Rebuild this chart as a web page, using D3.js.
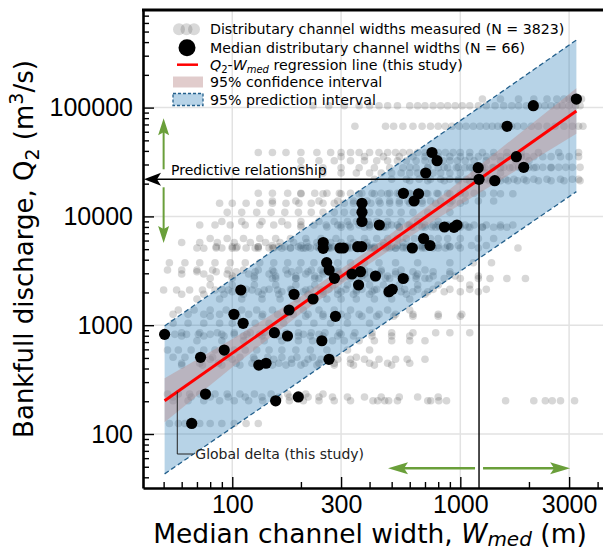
<!DOCTYPE html>
<html>
<head>
<meta charset="utf-8">
<script src="https://cdn.jsdelivr.net/npm/d3@7"></script>
<style>
  body { margin: 0; background: #fff; }
  text { font-family: "DejaVu Sans", sans-serif; fill: #000; }
</style>
</head>
<body>
<script>
// median distributary channel width (m) and bankfull discharge (m3/s), one per delta
var medianW = [50.5, 66.4, 72.6, 76.3, 92.2, 101.7, 109, 111.6, 130.7, 140.6, 153, 155, 174.6, 177.4, 186.6,
    194.8, 226, 247, 265.5, 283.5, 259.4, 266, 280.5, 335, 358, 365, 424.7, 486.5, 503, 562, 751.5, 791, 705,
    1198, 1208, 1416, 563, 656, 627, 370.5, 370.5, 370.5, 441.6, 852, 938, 967, 690, 736, 616, 250.5, 250.5,
    296.5, 307, 354.8, 369.5, 3228, 2090, 1603, 1761, 1897];
var medianQ = [824, 125, 507, 233, 591, 1259, 2106, 1041, 430, 447, 853, 202, 796, 1380, 1923,
    219, 1742, 720, 486, 1208, 3754, 3214, 2697, 2955, 2342, 3102, 2832, 2033, 2137, 2686, 38650, 32500, 25070,
    28030, 21930, 21280, 16300, 16150, 13850, 13200, 10900, 8980, 8340, 7990, 7940, 8340, 6265, 5402, 5124, 5755, 5091,
    5124, 5124, 5266, 5266, 119900, 104100, 67300, 35400, 28250];

// measured channel widths (m), one row per delta discharge
var rowQ = [119900, 104100, 67300, 38650, 35400, 32500, 28250, 28030, 25070, 21930, 21280, 16300, 16150, 13850,
    13200, 10900, 8980, 8340, 7990, 7940, 8340, 6265, 5755, 5402, 5266, 5266, 5124, 5124, 5124, 5091, 3754, 3214,
    3102, 2955, 2832, 2697, 2686, 2342, 2137, 2106, 2033, 1923, 1742, 1380, 1259, 1208, 1041, 853, 824, 796, 720,
    591, 507, 486, 447, 430, 233, 219, 202, 125];
var rowW = [
    [1250, 1500, 1800, 2100, 2400, 2650, 2850, 3000, 3100, 3228, 3300, 3400],
    [226, 265, 310, 360, 400, 440, 480, 530, 600, 650, 700, 760, 820, 880, 950, 1020, 1100, 1200, 1300, 1420, 1550, 1680, 1800, 1950, 2090, 2200, 2350, 2500, 2650, 2800, 3000, 3200, 3350],
    [345, 470, 510, 560, 620, 680, 740, 800, 860, 920, 990, 1060, 1140, 1220, 1300, 1380, 1460, 1540, 1603, 1680, 1780, 1900, 2050, 2200, 2400, 2600, 2850, 3100, 3300, 3450],
    [130, 150, 172, 200, 235, 270, 300, 330, 360, 400, 440, 480, 520, 560, 600, 650, 700, 751, 800, 860, 930, 1000, 1100, 1250, 1400, 1600, 1850, 2200, 2700, 3300],
    [300, 380, 460, 540, 620, 700, 800, 900, 1000, 1100, 1200, 1300, 1400, 1500, 1600, 1700, 1761, 1850, 1950, 2100, 2300, 2500, 2750, 3000, 3300],
    [200, 240, 280, 330, 380, 430, 480, 530, 580, 640, 700, 750, 791, 840, 900, 970, 1050, 1150, 1300, 1500, 1750, 2000],
    [600, 720, 850, 980, 1100, 1250, 1400, 1550, 1700, 1800, 1897, 2000, 2150, 2300, 2500, 2700, 2900, 3100, 3350],
    [200, 250, 300, 360, 420, 490, 560, 640, 720, 800, 880, 960, 1050, 1130, 1198, 1280, 1380, 1500, 1650, 1850, 2100, 2500],
    [250, 300, 350, 400, 450, 500, 550, 600, 650, 705, 760, 820, 900, 1000, 1150, 1300, 1500],
    [420, 500, 580, 660, 740, 820, 900, 980, 1060, 1140, 1208, 1280, 1360, 1460, 1580, 1720, 1900, 2100, 2400, 2750, 3100, 3300],
    [600, 720, 850, 980, 1100, 1220, 1340, 1416, 1500, 1620, 1780, 1950, 2200, 2500, 2850, 3350],
    [130, 150, 175, 200, 230, 260, 295, 330, 370, 410, 450, 490, 530, 563, 600, 650, 710, 790, 880, 1000, 1150, 1400],
    [200, 250, 300, 360, 420, 480, 540, 600, 656, 720, 800, 900, 1050, 1250, 1500, 1700],
    [150, 190, 240, 290, 340, 390, 440, 490, 540, 590, 627, 680, 740, 820, 920, 1050, 1200, 1400],
    [88, 100, 115, 132, 150, 172, 196, 222, 250, 280, 310, 340, 370, 405, 445, 490, 540, 600, 680, 780, 900, 1000],
    [95, 110, 128, 148, 170, 195, 222, 250, 280, 310, 340, 370, 400, 440, 490, 550, 620, 720, 900],
    [90, 110, 135, 165, 200, 240, 280, 320, 350, 370, 395, 430, 480, 550, 650, 800],
    [72, 84, 98, 114, 132, 152, 175, 200, 228, 258, 290, 325, 360, 400, 441, 480, 530, 590, 660, 760, 880, 1000],
    [200, 260, 330, 400, 470, 540, 610, 680, 750, 810, 852, 900, 980, 1080, 1250, 1500],
    [300, 380, 460, 540, 620, 700, 780, 860, 938, 1000, 1100, 1250, 1400, 1600],
    [300, 400, 500, 600, 700, 800, 880, 967, 1050, 1150, 1300, 1500, 1700],
    [80, 95, 112, 132, 155, 180, 210, 245, 285, 330, 380, 430, 480, 530, 580, 630, 690, 740, 800, 880, 1000, 1200, 1400],
    [60, 72, 86, 102, 120, 140, 162, 186, 212, 235, 250, 270, 300, 340, 390, 460, 560, 700],
    [150, 200, 260, 320, 390, 460, 530, 600, 670, 736, 800, 880, 980, 1120, 1300],
    [85, 105, 130, 160, 195, 235, 280, 320, 355, 390, 440, 500, 600, 750, 900],
    [100, 130, 170, 215, 265, 315, 369, 420, 480, 560, 680, 900],
    [70, 85, 104, 126, 152, 180, 210, 240, 270, 296, 320, 360, 420, 520, 700],
    [90, 115, 145, 180, 220, 265, 307, 350, 400, 470, 580, 800],
    [150, 200, 260, 330, 410, 490, 560, 616, 680, 760, 860, 1000, 1200, 1790],
    [75, 100, 130, 165, 205, 250, 295, 350, 420, 520],
    [53, 62, 72, 84, 98, 114, 132, 152, 175, 200, 228, 259, 290, 330, 380, 440, 520, 650, 900, 1140, 1370],
    [52, 60, 70, 82, 96, 112, 130, 150, 172, 196, 222, 245, 266, 290, 330, 380, 450, 550, 700],
    [70, 85, 104, 126, 152, 182, 215, 250, 290, 330, 365, 400, 450, 520, 620, 760, 900],
    [60, 75, 95, 118, 145, 175, 210, 250, 295, 335, 380, 440, 520, 650, 900],
    [100, 125, 155, 190, 230, 275, 320, 370, 425, 480, 550, 640, 760, 950, 1200],
    [80, 100, 125, 155, 190, 230, 280, 330, 390, 470, 580, 700],
    [150, 190, 240, 300, 360, 420, 490, 562, 640, 730, 850, 1000, 1200, 1350, 1600, 1930],
    [80, 100, 125, 155, 190, 230, 275, 320, 358, 400, 460, 540, 650, 800, 1100],
    [90, 115, 145, 180, 220, 265, 315, 370, 430, 503, 570, 650, 760, 900, 1100, 1300],
    [50, 57, 65, 74, 84, 96, 109, 122, 138, 158, 182, 210, 245, 290, 350, 420, 500],
    [100, 130, 165, 205, 250, 300, 350, 410, 486, 550, 620, 720, 850, 1000, 1200],
    [60, 75, 92, 112, 135, 160, 187, 215, 250, 290, 340, 400, 480, 580, 700],
    [70, 88, 110, 135, 162, 192, 226, 260, 300, 350, 420, 500, 600],
    [58, 68, 80, 94, 110, 128, 150, 177, 205, 240, 280, 330, 400, 480, 600],
    [55, 64, 75, 88, 102, 118, 136, 158, 185, 215, 250, 300, 360, 440, 520, 620, 800, 1015],
    [80, 105, 135, 170, 210, 250, 283, 320, 370, 430, 510, 620, 800, 1000],
    [55, 64, 75, 88, 100, 112, 126, 145, 168, 195, 228, 270, 320, 400],
    [60, 72, 86, 102, 120, 138, 153, 172, 195, 222, 255, 295, 345, 410, 500, 620, 780, 900, 1100],
    [50.5, 56, 63, 71, 80, 90, 102, 116, 132, 152, 176, 205, 240, 300],
    [60, 75, 92, 112, 135, 160, 175, 195, 220, 250, 290, 340, 410, 500, 600],
    [70, 90, 112, 138, 165, 195, 225, 247, 275, 310, 360, 420, 500, 600, 700],
    [52, 58, 66, 75, 84, 92, 102, 114, 128, 145, 165, 190, 220, 260, 320, 400],
    [55, 62, 72.6, 82, 94, 108, 124, 143, 165, 192, 225, 270, 350],
    [80, 100, 125, 152, 182, 215, 245, 265, 290, 330, 380, 440, 520, 585, 700],
    [60, 72, 87, 104, 122, 141, 160, 182, 208, 240, 280, 330, 400, 480, 600],
    [60, 74, 90, 108, 131, 150, 172, 200, 235, 280, 340, 420, 500],
    [52, 58, 65, 72, 76, 84, 95, 108, 125, 148, 175, 210, 250],
    [55, 66, 80, 96, 114, 135, 160, 178, 195, 215, 240, 275, 320, 380, 450, 540, 650, 800],
    [55, 64, 75, 88, 102, 118, 136, 155, 178, 205, 240, 280, 330, 414, 434, 466, 485, 530, 720, 742, 805, 870, 1580, 2100, 2360, 2530, 2750, 3170],
    [53, 58, 62, 66, 72, 80, 90, 102, 115, 130]
];

// regression line and intervals
var lineW = [50.5, 3228];
var lineQ = [202, 93100];
var ciW = [50.5, 100, 200, 400, 800, 1600, 3228];
var ciLow = [128, 410, 1280, 3680, 9660, 23400, 57400];
var ciHigh = [325, 747, 1850, 4970, 14600, 46700, 151000];
var piW = [50.5, 3228];
var piLow = [43, 16900];
var piHigh = [985, 418000];

// axis ticks
var xTicks = [100, 300, 1000, 3000];
var xMinor = [50, 60, 70, 80, 90, 200, 400, 500, 600, 700, 800, 900, 2000, 4000];
var yTicks = [100, 1000, 10000, 100000];
var yMinor = [40, 50, 60, 70, 80, 90, 200, 300, 400, 500, 600, 700, 800, 900,
    2000, 3000, 4000, 5000, 6000, 7000, 8000, 9000, 20000, 30000, 40000, 50000, 60000, 70000, 80000, 90000,
    200000, 300000, 400000, 500000, 600000, 700000];

// annotation anchors
var predW = 1208, predQ = 21930;
var greenVQ = [80000, 5700];
var greenHW = [482, 3030];
var greenHQ = 48.4;
var deltaW = 57.4, deltaLabelQ = 65.5;

var margin = {top: 10, left: 143};
var width = 462;
var height = 478;
var green = "#6a9f3a";

var svg = d3.select("body")
    .append("svg")
    .attr("width", 603)
    .attr("height", 552)
    .append("g")
    .attr("transform", "translate(" + margin.left + "," + margin.top + ")");

var x = d3.scaleLog().domain([40.6, 4310]).range([0, width]);
var y = d3.scaleLog().domain([31.9, 789000]).range([height, 0]);

// grid lines
svg.selectAll(".vgrid").data(xTicks).enter().append("line")
    .attr("x1", function (d) { return x(d); }).attr("x2", function (d) { return x(d); })
    .attr("y1", 0).attr("y2", height)
    .style("stroke", "#e2e2e2").style("stroke-width", 1.5);
svg.selectAll(".hgrid").data(yTicks).enter().append("line")
    .attr("y1", function (d) { return y(d); }).attr("y2", function (d) { return y(d); })
    .attr("x1", 0).attr("x2", width)
    .style("stroke", "#e2e2e2").style("stroke-width", 1.5);

// measured widths
var measured = [];
rowW.forEach(function (ws, i) {
    ws.forEach(function (w) { measured.push({w: w, q: rowQ[i]}); });
});
svg.append("g").selectAll("circle")
    .data(measured)
    .enter()
    .append("circle")
    .attr("cx", function (d) { return x(d.w); })
    .attr("cy", function (d) { return y(d.q); })
    .attr("r", 3.8)
    .style("fill", "#404040")
    .style("opacity", 0.21);

// 95% prediction interval
var piArea = d3.area()
    .x(function (d, i) { return x(piW[i]); })
    .y0(function (d, i) { return y(piLow[i]); })
    .y1(function (d, i) { return y(piHigh[i]); });
svg.append("path").datum(piW).attr("d", piArea)
    .style("fill", "#1f77b4").style("opacity", 0.32);
[piLow, piHigh].forEach(function (arr) {
    svg.append("path").datum(piW)
        .attr("d", d3.line().x(function (d) { return x(d); }).y(function (d, i) { return y(arr[i]); }))
        .style("fill", "none").style("stroke", "#24608c")
        .style("stroke-width", 1.3).style("stroke-dasharray", "5,3");
});

// 95% confidence interval
var ciArea = d3.area()
    .x(function (d) { return x(d); })
    .y0(function (d, i) { return y(ciLow[i]); })
    .y1(function (d, i) { return y(ciHigh[i]); });
svg.append("path").datum(ciW).attr("d", ciArea)
    .style("fill", "#bc8f8f").style("opacity", 0.45);

// regression line
svg.append("path").datum(lineW)
    .attr("d", d3.line().x(function (d) { return x(d); }).y(function (d, i) { return y(lineQ[i]); }))
    .style("fill", "none").style("stroke", "#ff0000").style("stroke-width", 3);

// medians
svg.append("g").selectAll("circle")
    .data(medianW)
    .enter()
    .append("circle")
    .attr("cx", function (d) { return x(d); })
    .attr("cy", function (d, i) { return y(medianQ[i]); })
    .attr("r", 5.6)
    .style("fill", "#000");

function arrowHead(tx, ty, angle, len, half, notch, color) {
    svg.append("path")
        .attr("d", "M0,0L" + (-len) + "," + (-half) + "L" + (-len + notch) + ",0L" + (-len) + "," + half + "Z")
        .attr("transform", "translate(" + tx + "," + ty + ") rotate(" + angle + ")")
        .style("fill", color);
}

// predictive relationship
var px = x(predW), py = y(predQ);
svg.append("line").attr("x1", px).attr("x2", px).attr("y1", py).attr("y2", height)
    .style("stroke", "#000").style("stroke-width", 1.4);
svg.append("line").attr("x1", px).attr("x2", 8).attr("y1", py).attr("y2", py)
    .style("stroke", "#000").style("stroke-width", 1.4);
arrowHead(1, py, 180, 17, 6.5, 4, "#000");
svg.append("text").attr("x", 28).attr("y", py - 4)
    .style("font-size", "14px").text("Predictive relationship");

// green arrows
var gx = x(50);
svg.append("line").attr("x1", gx).attr("x2", gx).attr("y1", y(greenVQ[0]) + 10).attr("y2", py - 10)
    .style("stroke", green).style("stroke-width", 2);
svg.append("line").attr("x1", gx).attr("x2", gx).attr("y1", py + 8).attr("y2", y(greenVQ[1]) - 10)
    .style("stroke", green).style("stroke-width", 2);
arrowHead(gx, y(greenVQ[0]), -90, 17, 5.5, 3, green);
arrowHead(gx, y(greenVQ[1]), 90, 17, 5.5, 3, green);
var gy = y(greenHQ);
svg.append("line").attr("x1", x(greenHW[0]) + 10).attr("x2", px - 4).attr("y1", gy).attr("y2", gy)
    .style("stroke", green).style("stroke-width", 2.5);
svg.append("line").attr("x1", px + 4).attr("x2", x(greenHW[1]) - 10).attr("y1", gy).attr("y2", gy)
    .style("stroke", green).style("stroke-width", 2.5);
arrowHead(x(greenHW[0]), gy, 180, 20, 6, 4, green);
arrowHead(x(greenHW[1]), gy, 0, 20, 6, 4, green);

// global delta label
var dx = x(deltaW);
var lineAt = Math.exp(Math.log(lineQ[0]) + (Math.log(deltaW) - Math.log(lineW[0])) *
    (Math.log(lineQ[1]) - Math.log(lineQ[0])) / (Math.log(lineW[1]) - Math.log(lineW[0])));
svg.append("path")
    .attr("d", "M" + dx + "," + y(lineAt) + "V" + y(deltaLabelQ) + "H" + (dx + 16))
    .style("fill", "none").style("stroke", "#222").style("stroke-width", 1);
svg.append("text").attr("x", dx + 18).attr("y", y(deltaLabelQ) + 5)
    .style("font-size", "14px").style("fill", "#222").text("Global delta (this study)");

// Add X axis
var xAxis = svg.append("g")
    .attr("transform", "translate(0," + height + ")")
    .call(d3.axisBottom(x).tickValues(xTicks).tickFormat(d3.format("d"))
        .tickSizeInner(-11).tickSizeOuter(0).tickPadding(7));
svg.append("g")
    .attr("transform", "translate(0," + height + ")")
    .call(d3.axisBottom(x).tickValues(xMinor).tickFormat("").tickSizeInner(-6).tickSizeOuter(0))
    .select(".domain").remove();

// Add Y axis
var yAxis = svg.append("g")
    .call(d3.axisLeft(y).tickValues(yTicks).tickFormat(d3.format("d"))
        .tickSizeInner(-11).tickSizeOuter(0).tickPadding(10));
svg.append("g")
    .call(d3.axisLeft(y).tickValues(yMinor).tickFormat("").tickSizeInner(-6).tickSizeOuter(0))
    .select(".domain").remove();

svg.selectAll(".tick line").style("stroke-width", 1.4);
[xAxis, yAxis].forEach(function (a) {
    a.select(".domain").style("stroke-width", 2.6);
    a.selectAll(".tick text").style("font-family", "'Liberation Sans', Arial, sans-serif").style("font-size", "25px");
});

// top spine
svg.append("line").attr("x1", -1).attr("x2", width).attr("y1", 0).attr("y2", 0)
    .style("stroke", "#000").style("stroke-width", 3);

// axis titles
var xt = svg.append("text").attr("x", 227).attr("y", 533)
    .attr("text-anchor", "middle").style("font-size", "26.5px");
xt.append("tspan").text("Median channel width, ");
xt.append("tspan").style("font-style", "italic").text("W");
xt.append("tspan").style("font-style", "italic").style("font-size", "20px").attr("dy", 3).text("med");
xt.append("tspan").attr("dy", -3).text(" (m)");

var yt = svg.append("text")
    .attr("transform", "translate(" + (33 - margin.left) + ",239) rotate(-90)")
    .attr("text-anchor", "middle").style("font-size", "26px");
yt.append("tspan").text("Bankfull discharge, Q");
yt.append("tspan").style("font-size", "19px").attr("dy", 6).text("2");
yt.append("tspan").attr("dy", -6).text(" (m");
yt.append("tspan").style("font-size", "19px").attr("dy", -10).text("3");
yt.append("tspan").attr("dy", 10).text("/s)");

// legend
var legend = svg.append("g").attr("transform", "translate(" + (-margin.left) + "," + (-margin.top) + ")");
var rowY = [29.3, 47.7, 64.7, 82, 99.5];
[179, 186.5, 194].forEach(function (cx) {
    legend.append("circle").attr("cx", cx).attr("cy", rowY[0]).attr("r", 6)
        .style("fill", "#404040").style("opacity", 0.2);
});
legend.append("circle").attr("cx", 187).attr("cy", rowY[1]).attr("r", 8.5).style("fill", "#000");
legend.append("line").attr("x1", 177).attr("x2", 198).attr("y1", rowY[2]).attr("y2", rowY[2])
    .style("stroke", "#ff0000").style("stroke-width", 2.5);
legend.append("rect").attr("x", 173).attr("y", rowY[3] - 5.5).attr("width", 30).attr("height", 11)
    .style("fill", "#bc8f8f").style("opacity", 0.45);
legend.append("rect").attr("x", 173).attr("y", rowY[4] - 6).attr("width", 30).attr("height", 12)
    .style("fill", "rgba(31,119,180,0.32)").style("stroke", "#24608c")
    .style("stroke-width", 1.3).style("stroke-dasharray", "3,2");

var legendText = ["Distributary channel widths measured (N = 3823)",
    "Median distributary channel widths (N = 66)", null,
    "95% confidence interval", "95% prediction interval"];
legendText.forEach(function (t, i) {
    if (t === null) return;
    legend.append("text").attr("x", 210).attr("y", rowY[i]).attr("dy", "0.36em")
        .style("font-size", "14.2px").text(t);
});
var lt = legend.append("text").attr("x", 210).attr("y", rowY[2]).attr("dy", "0.36em").style("font-size", "14.2px");
lt.append("tspan").style("font-style", "italic").text("Q");
lt.append("tspan").style("font-size", "10px").attr("dy", 3).text("2");
lt.append("tspan").attr("dy", -3).text("-");
lt.append("tspan").style("font-style", "italic").text("W");
lt.append("tspan").style("font-style", "italic").style("font-size", "10px").attr("dy", 3).text("med");
lt.append("tspan").attr("dy", -3).text(" regression line (this study)");
</script>
</body>
</html>
